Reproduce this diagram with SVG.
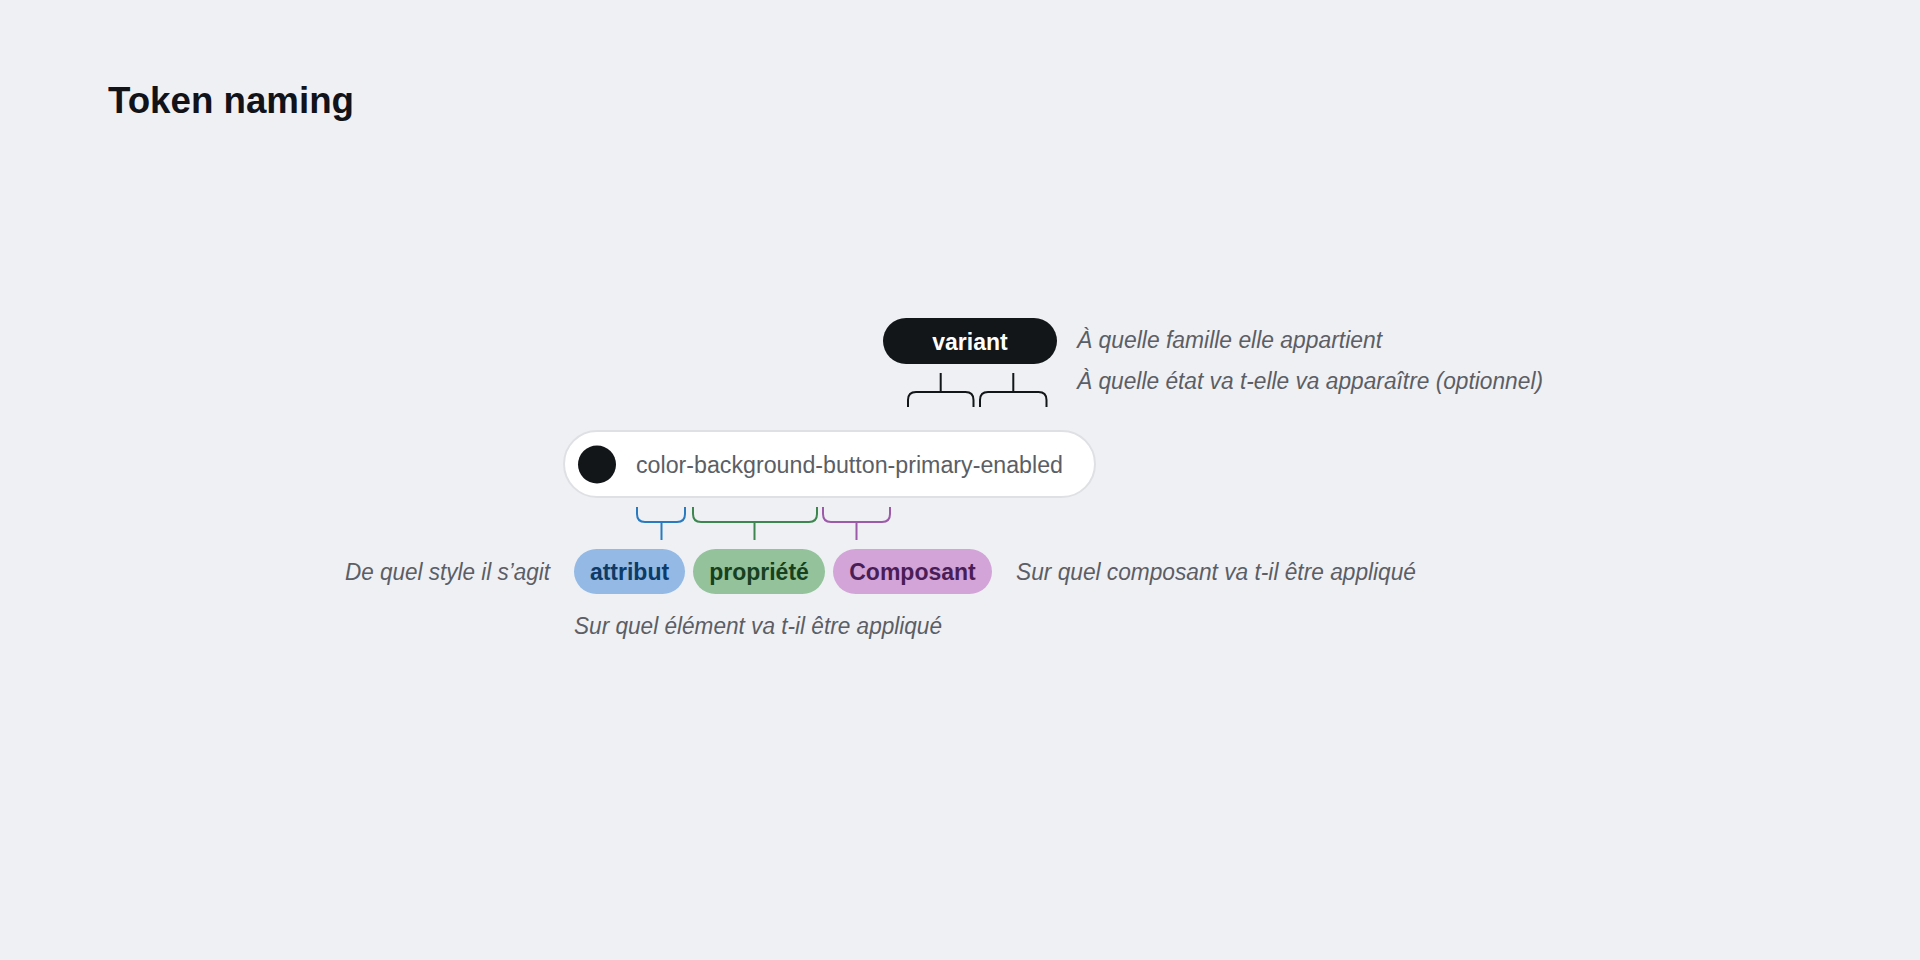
<svg xmlns="http://www.w3.org/2000/svg" width="1920" height="960" viewBox="0 0 1920 960">
  <style>
    .title { font-family: "Liberation Sans", Arial, sans-serif; font-weight: 700; font-size: 36px; fill: #111318; }
    .note { font-family: "Liberation Sans", Arial, sans-serif; font-style: italic; font-size: 23px; fill: #5b5e65; }
    .pilltxt { font-family: "Liberation Sans", Arial, sans-serif; font-weight: 700; font-size: 23px; text-anchor: middle; }
    .token { font-family: "Liberation Sans", Arial, sans-serif; font-size: 23px; fill: #5b5e65; }
    .br { fill: none; stroke-width: 2; stroke-linecap: butt; }
  </style>
  <rect x="0" y="0" width="1920" height="960" fill="#eff0f4"/>
  <text class="title" x="108" y="113" textLength="246" lengthAdjust="spacingAndGlyphs">Token naming</text>

  <g id="token">
    <rect x="564" y="431" width="531" height="66" rx="33" fill="#ffffff" stroke="#dfe0e4" stroke-width="2"/>
    <circle cx="597" cy="464.5" r="19" fill="#131618"/>
    <text class="token" x="636" y="472.5" textLength="427" lengthAdjust="spacingAndGlyphs">color-background-button-primary-enabled</text>
  </g>

  <g id="variant">
    <rect x="883" y="318" width="174" height="46" rx="23" fill="#131618"/>
    <text class="pilltxt" x="970" y="350" fill="#ffffff">variant</text>
  </g>

  <g id="attribut">
    <rect x="574" y="549" width="111" height="45" rx="22.5" fill="#93b9e4"/>
    <text class="pilltxt" x="629.5" y="580" fill="#0d3a66">attribut</text>
  </g>
  <g id="propriete">
    <rect x="693" y="549" width="132" height="45" rx="22.5" fill="#93c29b"/>
    <text class="pilltxt" x="759" y="580" fill="#17401f">propriété</text>
  </g>
  <g id="composant">
    <rect x="833" y="549" width="159" height="45" rx="22.5" fill="#d3a4d8"/>
    <text class="pilltxt" x="912.5" y="580" fill="#4a1d56">Composant</text>
  </g>

  <g id="connectors">
    <path class="br" stroke="#131618" d="M908,407 V400 Q908,392 916,392 H965.5 Q973.5,392 973.5,400 V407 M940.7,373 V392"/>
    <path class="br" stroke="#131618" d="M980,407 V400 Q980,392 988,392 H1038.5 Q1046.5,392 1046.5,400 V407 M1013.3,373 V392"/>
    <path class="br" stroke="#2a7abf" d="M637,507 V514 Q637,522 645,522 H677 Q685,522 685,514 V507 M661.5,522 V540"/>
    <path class="br" stroke="#3d8650" d="M693,507 V514 Q693,522 701,522 H809 Q817,522 817,514 V507 M754.5,522 V540"/>
    <path class="br" stroke="#9c5aa8" d="M823,507 V514 Q823,522 831,522 H882 Q890,522 890,514 V507 M856.5,522 V540"/>
  </g>

  <g id="notes">
    <text class="note" x="1077" y="347.5" textLength="305" lengthAdjust="spacingAndGlyphs">À quelle famille elle appartient</text>
    <text class="note" x="1077" y="389" textLength="466" lengthAdjust="spacingAndGlyphs">À quelle état va t-elle va apparaître (optionnel)</text>
    <text class="note" x="345" y="580" textLength="205" lengthAdjust="spacingAndGlyphs">De quel style il s’agit</text>
    <text class="note" x="1016" y="580" textLength="400" lengthAdjust="spacingAndGlyphs">Sur quel composant va t-il être appliqué</text>
    <text class="note" x="574" y="634" textLength="368" lengthAdjust="spacingAndGlyphs">Sur quel élément va t-il être appliqué</text>
  </g>
</svg>
